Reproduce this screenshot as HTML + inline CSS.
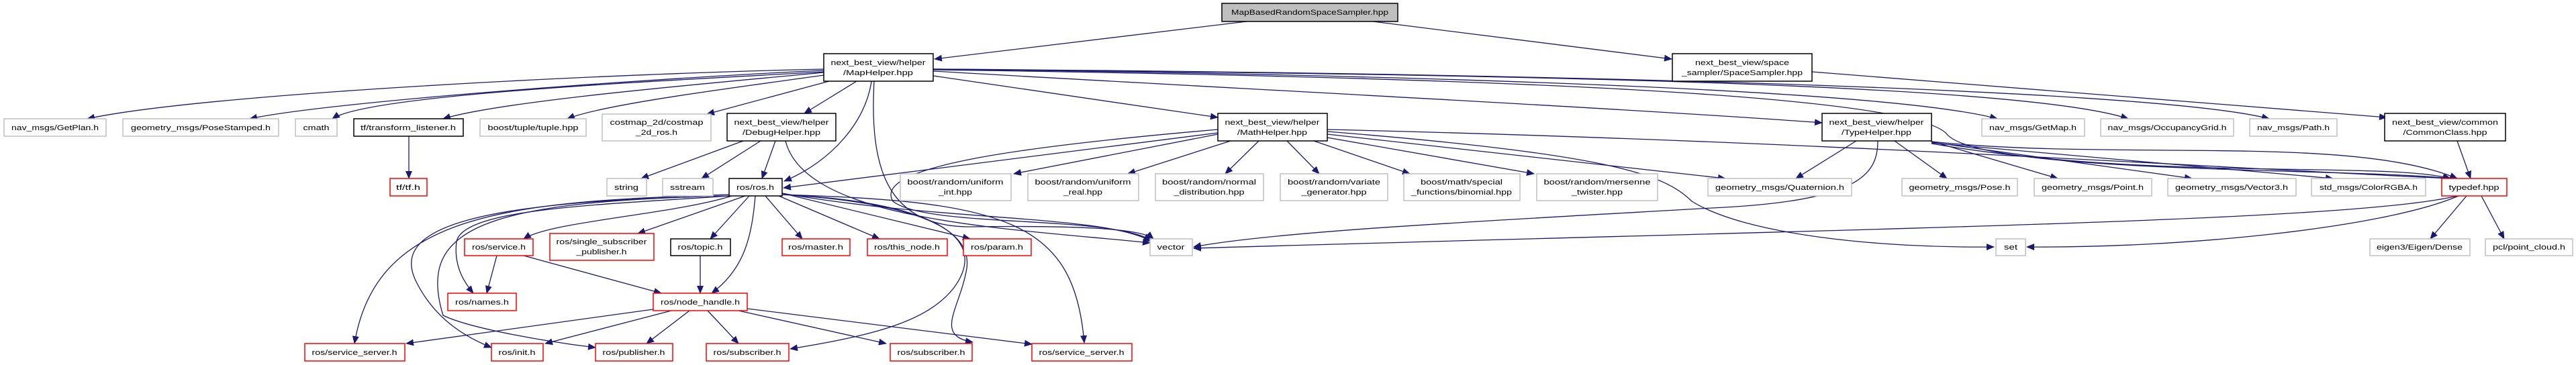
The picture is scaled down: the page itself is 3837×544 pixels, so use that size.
<!DOCTYPE html>
<html><head><meta charset="utf-8"><style>
html,body{margin:0;padding:0;background:#fff;}
svg{display:block;}
text{font-family:"Liberation Sans",sans-serif;font-size:11px;fill:#000;}
.g{fill:#fff;stroke:#bfbfbf;stroke-width:1.5}
.b{fill:#fff;stroke:#000;stroke-width:1.5}
.r{fill:#fff;stroke:#ff0000;stroke-width:1.5}
.e{fill:none;stroke:#191970;stroke-width:1.3;marker-end:url(#a)}
</style></head><body>
<svg width="3837" height="544" viewBox="0 0 3837 544" xmlns="http://www.w3.org/2000/svg">
<defs><marker id="a" markerUnits="userSpaceOnUse" markerWidth="12" markerHeight="10" refX="11" refY="5" orient="auto"><path d="M0,0 L12,5 L0,10 z" fill="#191970"/></marker></defs>
<g>
<path class="e" d="M1857,32 L1392,88"/>
<path class="e" d="M2045,32 L2490,88"/>
<path class="e" d="M1227,103 C900,110 300,140 130,177"/>
<path class="e" d="M1227,105 C1000,115 500,150 372,177"/>
<path class="e" d="M1227,107 C1000,120 550,140 495,177"/>
<path class="e" d="M1227,108 C1050,125 750,150 660,177"/>
<path class="e" d="M1227,112 C1100,130 900,155 845,177"/>
<path class="e" d="M1235,121 L1053,170"/>
<path class="e" d="M1276,121 L1198,169"/>
<path class="e" d="M1298,121 C1290,180 1240,240 1168,270"/>
<path class="e" d="M1390,113 L1814,175"/>
<path class="e" d="M1390,106 C1800,130 2400,160 2714,183"/>
<path class="e" d="M1390,103 C2000,110 2800,130 2975,177"/>
<path class="e" d="M1390,103 C2100,110 3000,120 3170,177"/>
<path class="e" d="M1390,103 C2200,108 3200,130 3380,177"/>
<path class="e" d="M1390,104 C2200,115 2850,140 2900,200 C2950,260 3500,250 3650,266"/>
<path class="e" d="M1302,121 C1295,250 1320,340 1450,338 C1600,336 1700,340 1718,356"/>
<path class="e" d="M2699,107 L3555,175"/>
<path class="e" d="M3660,210 L3680,266"/>
<path class="e" d="M609,203 L609,266"/>
<path class="e" d="M1107,210 L955,266"/>
<path class="e" d="M1133,210 L1045,266"/>
<path class="e" d="M1155,210 L1135,266"/>
<path class="e" d="M1170,210 C1200,330 1500,340 1713,362"/>
<path class="e" d="M1814,200 L1510,259"/>
<path class="e" d="M1833,210 L1680,259"/>
<path class="e" d="M1875,210 L1825,259"/>
<path class="e" d="M1917,210 L1965,259"/>
<path class="e" d="M1957,210 L2100,259"/>
<path class="e" d="M1977,205 L2285,259"/>
<path class="e" d="M1977,200 L2570,266"/>
<path class="e" d="M1977,193 C2700,210 3300,250 3650,266"/>
<path class="e" d="M1814,198 L1167,280"/>
<path class="e" d="M1814,193 C1500,220 1300,250 1330,300 C1380,340 1650,320 1715,358"/>
<path class="e" d="M1977,196 C2400,230 2480,260 2520,300 C2600,350 2800,370 2970,368"/>
<path class="e" d="M2765,210 L2675,266"/>
<path class="e" d="M2822,210 L2900,266"/>
<path class="e" d="M2875,210 L3065,266"/>
<path class="e" d="M2877,212 L3265,266"/>
<path class="e" d="M2877,213 L3475,266"/>
<path class="e" d="M2877,214 C3200,270 3550,240 3650,266"/>
<path class="e" d="M2877,211 C3150,240 3500,200 3660,266"/>
<path class="e" d="M2797,210 C2797,260 2770,300 2550,310 C2200,330 1900,345 1778,368"/>
<path class="e" d="M3660,292 C3500,330 2800,340 1778,370"/>
<path class="e" d="M3662,292 C3550,340 3250,370 3019,368"/>
<path class="e" d="M3674,292 L3620,356"/>
<path class="e" d="M3696,292 L3730,356"/>
<path class="e" d="M1090,292 C1000,320 820,330 780,356"/>
<path class="e" d="M1110,292 L950,348"/>
<path class="e" d="M1116,292 L1058,356"/>
<path class="e" d="M1140,292 L1195,356"/>
<path class="e" d="M1160,292 L1310,356"/>
<path class="e" d="M1165,288 L1445,356"/>
<path class="e" d="M1086,292 C900,305 690,310 680,360 C675,400 695,425 705,437"/>
<path class="e" d="M1125,292 C1120,350 1110,400 1060,437"/>
<path class="e" d="M1086,290 C750,300 560,320 528,512"/>
<path class="e" d="M1086,292 C700,300 580,340 620,420 C650,480 700,505 732,518"/>
<path class="e" d="M1086,292 C720,300 620,340 660,470 C700,490 820,510 887,518"/>
<path class="e" d="M1165,290 C1330,300 1450,330 1440,400 C1430,460 1390,500 1449,510"/>
<path class="e" d="M1165,290 C1500,300 1600,330 1615,511"/>
<path class="e" d="M1165,288 C1400,330 1650,320 1715,360"/>
<path class="e" d="M1165,290 C1380,300 1480,350 1420,430 C1380,480 1300,500 1177,520"/>
<path class="e" d="M740,381 L725,437"/>
<path class="e" d="M780,381 L985,437"/>
<path class="e" d="M1043,381 L1043,437"/>
<path class="e" d="M973,461 L605,512"/>
<path class="e" d="M1000,463 L812,512"/>
<path class="e" d="M1027,463 L963,512"/>
<path class="e" d="M1054,463 L1100,512"/>
<path class="e" d="M1100,463 L1320,512"/>
<path class="e" d="M1113,460 L1537,513"/>
</g>
<g text-anchor="middle" lengthAdjust="spacingAndGlyphs">
<rect x="1820" y="5" width="262" height="27" fill="#bfbfbf" stroke="#000" stroke-width="1.5"/><text x="1951" y="22" textLength="234" lengthAdjust="spacingAndGlyphs">MapBasedRandomSpaceSampler.hpp</text>
<rect class="b" x="1227" y="80" width="163" height="41"/><text x="1308" y="97" textLength="141" lengthAdjust="spacingAndGlyphs">next_best_view/helper</text><text x="1308" y="112" textLength="104" lengthAdjust="spacingAndGlyphs">/MapHelper.hpp</text>
<rect class="b" x="2491" y="80" width="208" height="41"/><text x="2595" y="97" textLength="140" lengthAdjust="spacingAndGlyphs">next_best_view/space</text><text x="2595" y="112" textLength="180" lengthAdjust="spacingAndGlyphs">_sampler/SpaceSampler.hpp</text>

<rect class="g" x="6" y="177" width="152" height="26"/><text x="82" y="194" textLength="130" lengthAdjust="spacingAndGlyphs">nav_msgs/GetPlan.h</text>
<rect class="g" x="183" y="177" width="232" height="26"/><text x="299" y="194" textLength="208" lengthAdjust="spacingAndGlyphs">geometry_msgs/PoseStamped.h</text>
<rect class="g" x="440" y="177" width="62" height="26"/><text x="471" y="194" textLength="39" lengthAdjust="spacingAndGlyphs">cmath</text>
<rect class="b" x="527" y="177" width="163" height="26"/><text x="608" y="194" textLength="142" lengthAdjust="spacingAndGlyphs">tf/transform_listener.h</text>
<rect class="g" x="715" y="177" width="158" height="26"/><text x="794" y="194" textLength="135" lengthAdjust="spacingAndGlyphs">boost/tuple/tuple.hpp</text>
<rect class="g" x="897" y="170" width="162" height="40"/><text x="978" y="186" textLength="139" lengthAdjust="spacingAndGlyphs">costmap_2d/costmap</text><text x="978" y="201" textLength="62" lengthAdjust="spacingAndGlyphs">_2d_ros.h</text>
<rect class="b" x="1083" y="169" width="162" height="41"/><text x="1164" y="186" textLength="141" lengthAdjust="spacingAndGlyphs">next_best_view/helper</text><text x="1164" y="201" textLength="116" lengthAdjust="spacingAndGlyphs">/DebugHelper.hpp</text>
<rect class="b" x="1814" y="169" width="163" height="41"/><text x="1895" y="186" textLength="141" lengthAdjust="spacingAndGlyphs">next_best_view/helper</text><text x="1895" y="201" textLength="104" lengthAdjust="spacingAndGlyphs">/MathHelper.hpp</text>
<rect class="b" x="2714" y="169" width="163" height="41"/><text x="2795" y="186" textLength="141" lengthAdjust="spacingAndGlyphs">next_best_view/helper</text><text x="2795" y="201" textLength="104" lengthAdjust="spacingAndGlyphs">/TypeHelper.hpp</text>
<rect class="g" x="2952" y="177" width="153" height="26"/><text x="3028" y="194" textLength="130" lengthAdjust="spacingAndGlyphs">nav_msgs/GetMap.h</text>
<rect class="g" x="3129" y="177" width="198" height="26"/><text x="3228" y="194" textLength="177" lengthAdjust="spacingAndGlyphs">nav_msgs/OccupancyGrid.h</text>
<rect class="g" x="3351" y="177" width="130" height="26"/><text x="3416" y="194" textLength="108" lengthAdjust="spacingAndGlyphs">nav_msgs/Path.h</text>
<rect class="b" x="3552" y="169" width="180" height="41"/><text x="3642" y="186" textLength="158" lengthAdjust="spacingAndGlyphs">next_best_view/common</text><text x="3642" y="201" textLength="125" lengthAdjust="spacingAndGlyphs">/CommonClass.hpp</text>

<rect class="r" x="581" y="266" width="55" height="26"/><text x="608" y="283" textLength="36" lengthAdjust="spacingAndGlyphs">tf/tf.h</text>
<rect class="g" x="904" y="266" width="59" height="26"/><text x="933" y="283" textLength="36" lengthAdjust="spacingAndGlyphs">string</text>
<rect class="g" x="987" y="266" width="75" height="26"/><text x="1024" y="283" textLength="52" lengthAdjust="spacingAndGlyphs">sstream</text>
<rect class="b" x="1086" y="266" width="79" height="26"/><text x="1125" y="283" textLength="56" lengthAdjust="spacingAndGlyphs">ros/ros.h</text>
<rect class="g" x="1341" y="259" width="165" height="40"/><text x="1423" y="275" textLength="143" lengthAdjust="spacingAndGlyphs">boost/random/uniform</text><text x="1423" y="290" textLength="50" lengthAdjust="spacingAndGlyphs">_int.hpp</text>
<rect class="g" x="1531" y="259" width="165" height="40"/><text x="1613" y="275" textLength="143" lengthAdjust="spacingAndGlyphs">boost/random/uniform</text><text x="1613" y="290" textLength="58" lengthAdjust="spacingAndGlyphs">_real.hpp</text>
<rect class="g" x="1721" y="259" width="161" height="40"/><text x="1801" y="275" textLength="140" lengthAdjust="spacingAndGlyphs">boost/random/normal</text><text x="1801" y="290" textLength="105" lengthAdjust="spacingAndGlyphs">_distribution.hpp</text>
<rect class="g" x="1907" y="259" width="160" height="40"/><text x="1987" y="275" textLength="138" lengthAdjust="spacingAndGlyphs">boost/random/variate</text><text x="1987" y="290" textLength="97" lengthAdjust="spacingAndGlyphs">_generator.hpp</text>
<rect class="g" x="2091" y="259" width="173" height="40"/><text x="2177" y="275" textLength="122" lengthAdjust="spacingAndGlyphs">boost/math/special</text><text x="2177" y="290" textLength="150" lengthAdjust="spacingAndGlyphs">_functions/binomial.hpp</text>
<rect class="g" x="2289" y="259" width="180" height="40"/><text x="2379" y="275" textLength="159" lengthAdjust="spacingAndGlyphs">boost/random/mersenne</text><text x="2379" y="290" textLength="76" lengthAdjust="spacingAndGlyphs">_twister.hpp</text>
<rect class="g" x="2544" y="266" width="214" height="26"/><text x="2651" y="283" textLength="192" lengthAdjust="spacingAndGlyphs">geometry_msgs/Quaternion.h</text>
<rect class="g" x="2833" y="266" width="172" height="26"/><text x="2919" y="283" textLength="151" lengthAdjust="spacingAndGlyphs">geometry_msgs/Pose.h</text>
<rect class="g" x="3030" y="266" width="175" height="26"/><text x="3117" y="283" textLength="152" lengthAdjust="spacingAndGlyphs">geometry_msgs/Point.h</text>
<rect class="g" x="3229" y="266" width="191" height="26"/><text x="3324" y="283" textLength="168" lengthAdjust="spacingAndGlyphs">geometry_msgs/Vector3.h</text>
<rect class="g" x="3443" y="266" width="170" height="26"/><text x="3528" y="283" textLength="146" lengthAdjust="spacingAndGlyphs">std_msgs/ColorRGBA.h</text>
<rect class="r" x="3637" y="266" width="97" height="26"/><text x="3685" y="283" textLength="75" lengthAdjust="spacingAndGlyphs">typedef.hpp</text>

<rect class="r" x="692" y="356" width="102" height="25"/><text x="743" y="372" textLength="80" lengthAdjust="spacingAndGlyphs">ros/service.h</text>
<rect class="r" x="819" y="348" width="155" height="40"/><text x="896" y="364" textLength="135" lengthAdjust="spacingAndGlyphs">ros/single_subscriber</text><text x="896" y="379" textLength="75" lengthAdjust="spacingAndGlyphs">_publisher.h</text>
<rect class="b" x="999" y="356" width="89" height="25"/><text x="1043" y="372" textLength="67" lengthAdjust="spacingAndGlyphs">ros/topic.h</text>
<rect class="r" x="1165" y="356" width="101" height="25"/><text x="1215" y="372" textLength="82" lengthAdjust="spacingAndGlyphs">ros/master.h</text>
<rect class="r" x="1292" y="356" width="119" height="25"/><text x="1351" y="372" textLength="98" lengthAdjust="spacingAndGlyphs">ros/this_node.h</text>
<rect class="r" x="1435" y="356" width="101" height="25"/><text x="1485" y="372" textLength="78" lengthAdjust="spacingAndGlyphs">ros/param.h</text>
<rect class="g" x="1713" y="356" width="63" height="25"/><text x="1744" y="372" textLength="41" lengthAdjust="spacingAndGlyphs">vector</text>
<rect class="g" x="2973" y="356" width="44" height="25"/><text x="2995" y="372" textLength="20" lengthAdjust="spacingAndGlyphs">set</text>
<rect class="g" x="3530" y="356" width="149" height="25"/><text x="3604" y="372" textLength="128" lengthAdjust="spacingAndGlyphs">eigen3/Eigen/Dense</text>
<rect class="g" x="3702" y="356" width="130" height="25"/><text x="3767" y="372" textLength="108" lengthAdjust="spacingAndGlyphs">pcl/point_cloud.h</text>

<rect class="r" x="667" y="437" width="102" height="26"/><text x="718" y="454" textLength="80" lengthAdjust="spacingAndGlyphs">ros/names.h</text>
<rect class="r" x="973" y="437" width="140" height="26"/><text x="1043" y="454" textLength="118" lengthAdjust="spacingAndGlyphs">ros/node_handle.h</text>

<rect class="r" x="454" y="512" width="149" height="26"/><text x="528" y="529" textLength="127" lengthAdjust="spacingAndGlyphs">ros/service_server.h</text>
<rect class="r" x="732" y="512" width="77" height="26"/><text x="770" y="529" textLength="55" lengthAdjust="spacingAndGlyphs">ros/init.h</text>
<rect class="r" x="887" y="512" width="115" height="26"/><text x="944" y="529" textLength="93" lengthAdjust="spacingAndGlyphs">ros/publisher.h</text>
<rect class="r" x="1052" y="512" width="123" height="26"/><text x="1113" y="529" textLength="101" lengthAdjust="spacingAndGlyphs">ros/subscriber.h</text>
<rect class="r" x="1326" y="512" width="122" height="26"/><text x="1387" y="529" textLength="101" lengthAdjust="spacingAndGlyphs">ros/subscriber.h</text>
<rect class="r" x="1537" y="512" width="149" height="26"/><text x="1611" y="529" textLength="127" lengthAdjust="spacingAndGlyphs">ros/service_server.h</text>
</g>
</svg>
</body></html>
